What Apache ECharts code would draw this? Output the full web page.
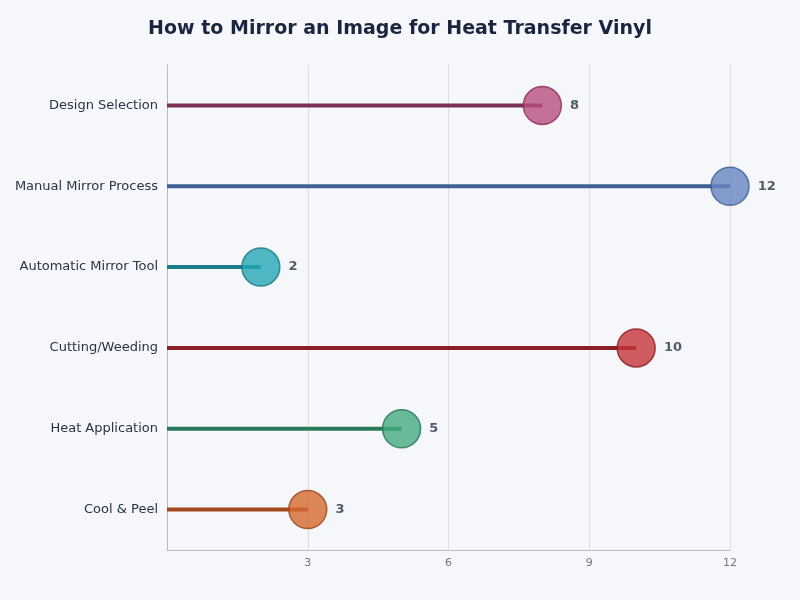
<!DOCTYPE html>
<html><head><meta charset="utf-8">
<script src="https://cdn.jsdelivr.net/npm/echarts@6/dist/echarts.min.js"></script>
<style>html,body{margin:0;background:#f5f7fb}#c{width:800px;height:600px}</style>
</head><body><div id="c"></div>
<script>
const categories = ["Design Selection","Manual Mirror Process","Automatic Mirror Tool","Cutting/Weeding","Heat Application","Cool & Peel"];
const values = [8,12,2,10,5,3];
const lineColors = ["#7b2d58","#3f5f96","#187d88","#8b1e26","#2a7a5a","#a3481d"];
const dotColors = ["#b84d80","#6884c0","#25a5b5","#c4343a","#45aa80","#d4692e"];
const dotBorders = ["#8a2a5a","#3c5a93","#157580","#8b1a20","#237052","#9b421a"];
const ticks = [3,6,9,12];
const chart = echarts.init(document.getElementById('c'));
chart.setOption({
  backgroundColor:'#f5f7fb',
  title:{text:'How to Mirror an Image for Heat Transfer Vinyl',left:'center',top:15,
    textStyle:{fontFamily:'DejaVu Sans',fontSize:19,fontWeight:'bold',color:'#1a2640'}},
  grid:{left:167,right:70,top:65,bottom:50},
  xAxis:{type:'value',min:0,max:12,interval:3,
    axisLine:{show:true,lineStyle:{color:'#bbb'}},axisTick:{show:false},
    splitLine:{lineStyle:{color:'#ddd'}},
    axisLabel:{color:'#777',fontFamily:'DejaVu Sans',fontSize:11,
      formatter:v=>ticks.includes(v)?String(v):''}},
  yAxis:{type:'category',data:categories,inverse:true,
    axisLine:{show:true,lineStyle:{color:'#bbb'}},axisTick:{show:false},
    axisLabel:{color:'#2a3346',fontFamily:'DejaVu Sans',fontSize:13,margin:9}},
  series:[
    {type:'bar',barWidth:4,silent:true,
     data:values.map((v,i)=>({value:v,itemStyle:{color:lineColors[i]}}))},
    {type:'scatter',symbolSize:38,z:5,
     data:values.map((v,i)=>({value:[v,i],itemStyle:{color:dotColors[i],borderColor:dotBorders[i],borderWidth:1.5}})),
     label:{show:true,position:'right',distance:8,formatter:p=>p.value[0],
       fontFamily:'DejaVu Sans',fontWeight:'bold',fontSize:13,color:'#2a3346'}}
  ]
});
</script></body></html>
